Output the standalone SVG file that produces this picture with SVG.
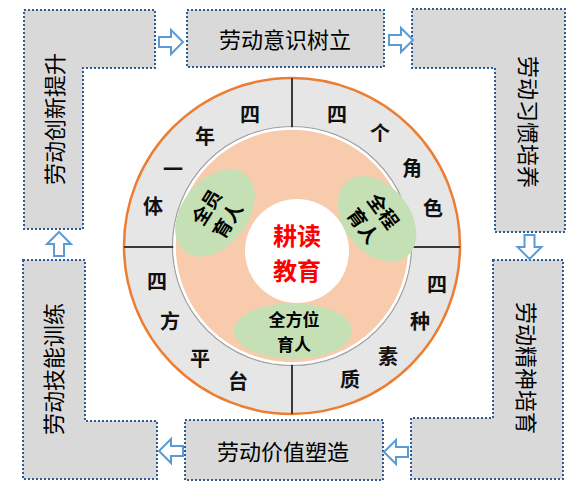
<svg xmlns="http://www.w3.org/2000/svg" width="572" height="489" viewBox="0 0 572 489">
<defs>
<style>
.box{fill:#d9d9d9;stroke:#2e5d94;stroke-width:2;stroke-dasharray:2 2}
.bt{font-family:"Noto Sans CJK SC","Noto Sans",sans-serif;font-size:22px;fill:#000;text-anchor:middle;dominant-baseline:central}
.rc{font-family:"Noto Sans CJK SC","Noto Sans",sans-serif;font-size:20px;font-weight:bold;fill:#111;text-anchor:middle;dominant-baseline:central}
.et{font-family:"Noto Sans CJK SC","Noto Sans",sans-serif;font-size:19px;font-weight:bold;fill:#000;text-anchor:middle;dominant-baseline:central}
.eb{font-family:"Noto Sans CJK SC","Noto Sans",sans-serif;font-size:17px;font-weight:bold;fill:#000;text-anchor:middle;dominant-baseline:central}
.ct{font-family:"Noto Sans CJK SC","Noto Sans",sans-serif;font-size:24px;font-weight:bold;fill:#ff0000;text-anchor:middle;dominant-baseline:central}
.arr{fill:#fff;stroke:#5b9bd5;stroke-width:2;stroke-linejoin:miter}
.div{stroke:#3a3a3a;stroke-width:2}
.ell{fill:#c5e0b4}
</style>
<path id="ar" d="M0,-5 H12 V-12 L24,0 L12,12 V5 H0 Z"/>
</defs>
<rect width="572" height="489" fill="#fff"/>

<g id="box-innovation">
<polygon class="box" points="24,10 155,10 155,68 83,68 83,229 24,229"/>
<text class="bt" transform="translate(53,119) rotate(-90)">劳动创新提升</text>
</g>
<g id="box-awareness">
<rect class="box" x="187" y="10" width="197" height="57"/>
<text class="bt" x="285" y="38">劳动意识树立</text>
</g>
<g id="box-habit">
<polygon class="box" points="412,9 565,9 565,232 495,232 495,68 412,68"/>
<text class="bt" transform="translate(530,122) rotate(90)">劳动习惯培养</text>
</g>
<g id="box-spirit">
<polygon class="box" points="493,260 563,260 563,479 411,479 411,418 493,418"/>
<text class="bt" transform="translate(528,368) rotate(90)">劳动精神培育</text>
</g>
<g id="box-value">
<rect class="box" x="185" y="420" width="198" height="60"/>
<text class="bt" x="283" y="450">劳动价值塑造</text>
</g>
<g id="box-skill">
<polygon class="box" points="23,260 85,260 85,421 157,421 157,479 23,479"/>
<text class="bt" transform="translate(52,369) rotate(-90)">劳动技能训练</text>
</g>

<g id="connectors">
<use href="#ar" class="arr" transform="translate(159,42)"/>
<use href="#ar" class="arr" transform="translate(389,40)"/>
<use href="#ar" class="arr" transform="translate(529.5,235) rotate(90)"/>
<use href="#ar" class="arr" transform="translate(408,452) rotate(180)"/>
<use href="#ar" class="arr" transform="translate(183,451) rotate(180)"/>
<use href="#ar" class="arr" transform="translate(59,256) rotate(-90)"/>
</g>

<g id="ring">
<circle cx="292" cy="246" r="168" fill="#e6e6e6" stroke="#ed7d31" stroke-width="2.5"/>
<circle cx="292" cy="246" r="119.5" fill="none" stroke="#a0a0a0" stroke-width="1.2"/>
<line class="div" x1="292" y1="78" x2="292" y2="129"/>
<line class="div" x1="292" y1="363" x2="292" y2="414"/>
<line class="div" x1="124" y1="247" x2="174" y2="247"/>
<line class="div" x1="410" y1="247" x2="460" y2="247"/>
<text class="rc" x="250" y="113">四</text>
<text class="rc" x="205" y="135">年</text>
<text class="rc" x="173" y="168">一</text>
<text class="rc" x="153" y="205">体</text>
<text class="rc" x="337" y="113">四</text>
<text class="rc" x="380" y="132">个</text>
<text class="rc" x="412" y="167">角</text>
<text class="rc" x="433" y="207">色</text>
<text class="rc" x="157" y="280">四</text>
<text class="rc" x="170" y="320">方</text>
<text class="rc" x="200" y="357">平</text>
<text class="rc" x="238" y="380">台</text>
<text class="rc" x="437" y="283">四</text>
<text class="rc" x="420" y="320">种</text>
<text class="rc" x="388" y="355">素</text>
<text class="rc" x="350" y="378">质</text>
</g>

<g id="inner">
<circle cx="292" cy="246" r="117.5" fill="#f8cbad" stroke="#fff" stroke-width="2.5"/>
</g>

<g id="ellipse-all-staff">
<ellipse class="ell" cx="215" cy="213" rx="49" ry="33" transform="rotate(-52 215 213)"/>
<text class="et" transform="translate(215,212.5) rotate(-58)"><tspan x="0" y="-12">全员</tspan><tspan x="0" y="13">育人</tspan></text>
</g>
<g id="ellipse-whole-process">
<ellipse class="ell" cx="377" cy="219" rx="48" ry="33" transform="rotate(52 377 219)"/>
<text class="et" transform="translate(375,217) rotate(54)"><tspan x="0" y="-12">全程</tspan><tspan x="0" y="13">育人</tspan></text>
</g>
<g id="ellipse-all-round">
<ellipse class="ell" cx="293" cy="331" rx="59" ry="28"/>
<text class="eb"><tspan x="294" y="318">全方位</tspan><tspan x="294" y="343">育人</tspan></text>
</g>

<g id="center">
<circle cx="297" cy="251" r="52" fill="#fff"/>
<text class="ct"><tspan x="297" y="233.5">耕读</tspan><tspan x="297" y="268.5">教育</tspan></text>
</g>
</svg>
